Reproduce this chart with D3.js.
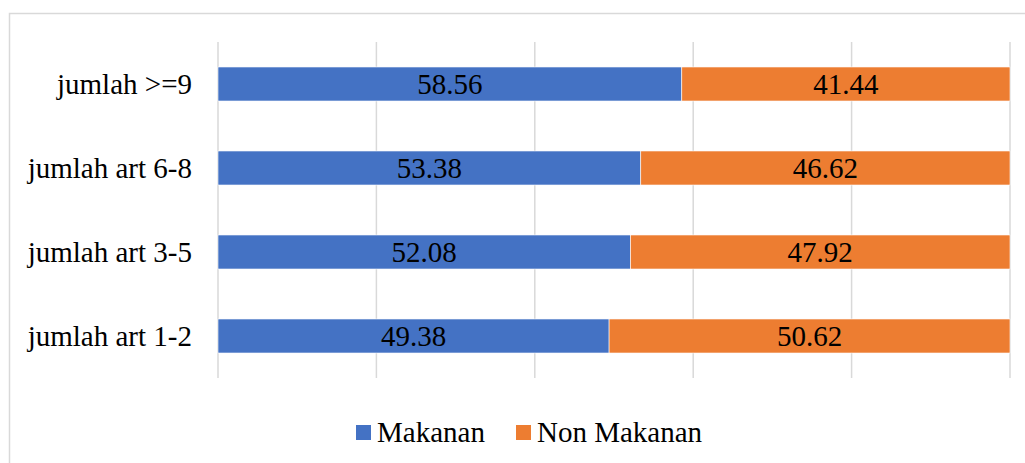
<!DOCTYPE html>
<html>
<head>
<meta charset="utf-8">
<script src="https://d3js.org/d3.v7.min.js"></script>
<style>
  body { margin: 0; background: #fff; }
</style>
</head>
<body>
<div id="chart"></div>
<script>
// data
var categories = ["jumlah >=9", "jumlah art 6-8", "jumlah art 3-5", "jumlah art 1-2"];
var makanan = [58.56, 53.38, 52.08, 49.38];
var nonMakanan = [41.44, 46.62, 47.92, 50.62];
var seriesNames = ["Makanan", "Non Makanan"];
var colors = ["#4472C4", "#ED7D31"];
var gridTicks = [0, 20, 40, 60, 80, 100];

var FONT = "'Liberation Serif', Tinos, 'Times New Roman', 'DejaVu Serif', serif";
var W = 1025, H = 463;
var plot = {left: 218, right: 1010, top: 42, bottom: 378};

var svg = d3.select("#chart").append("svg")
    .attr("width", W)
    .attr("height", H)
    .style("font-family", FONT);

// outer chart border (runs off the right and bottom of the picture)
svg.append("rect")
    .attr("x", 9.5).attr("y", 13.5)
    .attr("width", 1100).attr("height", 600)
    .attr("fill", "none")
    .attr("stroke", "#d9d9d9")
    .attr("stroke-width", 1.5);

var x = d3.scaleLinear()
    .domain([0, 100])
    .range([plot.left, plot.right]);

var y = d3.scaleBand()
    .domain(categories)
    .range([plot.top, plot.bottom])
    .paddingInner(0.595)
    .paddingOuter(0.2975);

// gridlines
svg.append("g")
    .selectAll("line")
    .data(gridTicks)
    .enter().append("line")
    .attr("x1", function(d) { return x(d); })
    .attr("x2", function(d) { return x(d); })
    .attr("y1", plot.top)
    .attr("y2", plot.bottom)
    .attr("stroke", "#d9d9d9")
    .attr("stroke-width", 1.5);

var rows = categories.map(function(c, i) {
  return {cat: c, values: [makanan[i], nonMakanan[i]]};
});

var segs = [];
rows.forEach(function(r) {
  var x0 = 0;
  r.values.forEach(function(v, j) {
    segs.push({cat: r.cat, x0: x0, x1: x0 + v, v: v, s: j});
    x0 += v;
  });
});

svg.append("g")
    .selectAll("rect")
    .data(segs)
    .enter().append("rect")
    .attr("x", function(d) { return x(d.x0); })
    .attr("width", function(d) { return x(d.x1) - x(d.x0); })
    .attr("y", function(d) { return y(d.cat); })
    .attr("height", y.bandwidth())
    .attr("fill", function(d) { return colors[d.s]; })
    .attr("stroke", "#fff")
    .attr("stroke-width", 0.6);

// data labels
svg.append("g")
    .selectAll("text")
    .data(segs)
    .enter().append("text")
    .attr("x", function(d) { return (x(d.x0) + x(d.x1)) / 2; })
    .attr("y", function(d) { return y(d.cat) + y.bandwidth() / 2; })
    .attr("dy", "0.34em")
    .attr("text-anchor", "middle")
    .style("font-family", FONT)
    .style("font-size", "29px")
    .text(function(d) { return d.v.toFixed(2); });

// category labels
svg.append("g")
    .selectAll("text")
    .data(categories)
    .enter().append("text")
    .attr("x", plot.left - 26)
    .attr("y", function(d) { return y(d) + y.bandwidth() / 2; })
    .attr("dy", "0.34em")
    .attr("text-anchor", "end")
    .style("font-family", FONT)
    .style("font-size", "29px")
    .text(function(d) { return d; });

// legend
var legendX = [356, 516];
var legend = svg.append("g")
    .selectAll("g")
    .data(seriesNames)
    .enter().append("g")
    .attr("transform", function(d, i) { return "translate(" + legendX[i] + ",425)"; });

legend.append("rect")
    .attr("width", 15).attr("height", 15)
    .attr("fill", function(d, i) { return colors[i]; });

legend.append("text")
    .attr("x", 21)
    .attr("y", 17)
    .style("font-family", FONT)
    .style("font-size", "29px")
    .text(function(d) { return d; });
</script>
</body>
</html>
